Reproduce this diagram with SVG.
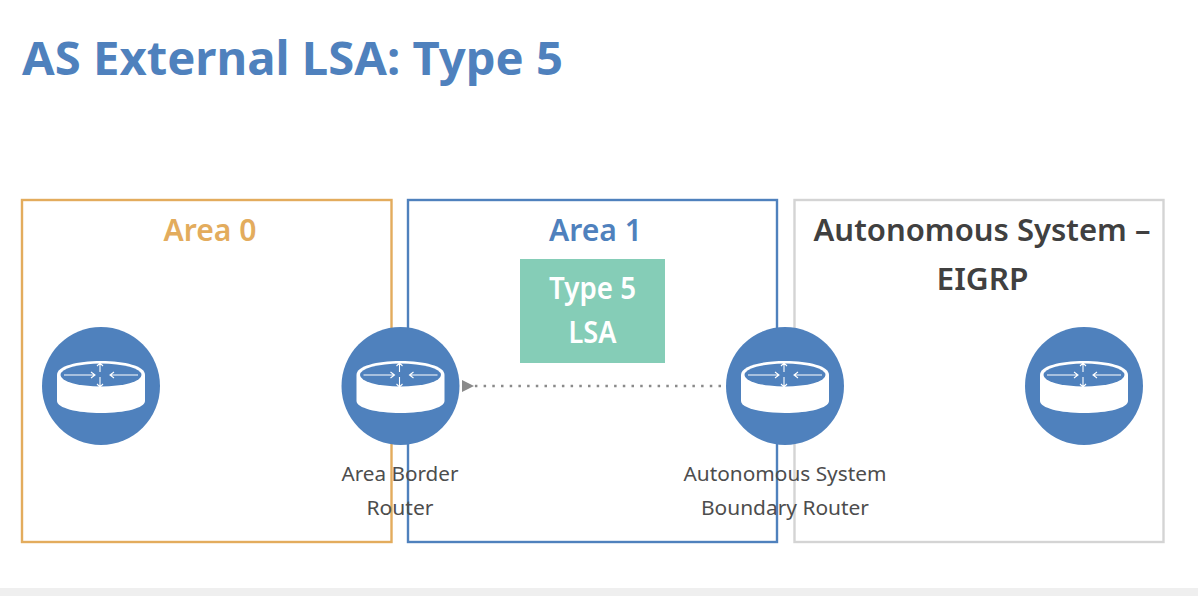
<svg xmlns="http://www.w3.org/2000/svg" xmlns:xlink="http://www.w3.org/1999/xlink" width="1198" height="596" viewBox="0 0 1198 596">
<style>
text{font-family:"Noto Sans","Open Sans","Liberation Sans",sans-serif;text-anchor:middle}
.h{font-size:30px;font-weight:600}
.l{font-size:20px;fill:#4d4d4d}
.box{fill:none;stroke-width:2.4}
.w{fill:#fff}
.a{stroke:#fff;stroke-width:1.1;fill:none}
.c{fill:#4f81bd}
</style>
<defs>
<marker id="arr" markerUnits="userSpaceOnUse" markerWidth="12" markerHeight="12" refX="1" refY="6" orient="auto-start-reverse" viewBox="0 0 12 12"><path d="M12 0V12L0 6Z" fill="#8a8a8a"/></marker>
<g id="router">
<circle r="59" class="c"/>
<path class="w" d="M-44-11C-44-20-24-25 0-25S44-20 44-11V15C44 22 24 27 0 27S-44 22-44 15Z"/>
<ellipse cy="-11" rx="40.500" ry="11.500" class="c"/>
<path class="a" d="M-37-11H-6M-10-14-6-11-10-8M37-11H9M13-14 9-11 13-8M-1-23V-14M-4-20-1-23 2-20M-1 -9V1M-4-2-1 1 2-2"/>
</g>
</defs>
<rect width="1198" height="596" fill="#fff"/>
<rect y="588" width="1198" height="8" fill="#efefef"/>
<text id="title" x="292.500" y="75" font-size="46" font-weight="700" fill="#4f81bd" textLength="541" lengthAdjust="spacingAndGlyphs">AS External LSA: Type 5</text>
<g id="area0"><rect class="box" x="22" y="200" width="369.500" height="342" stroke="#e3ac5d"/><text class="h" x="210" y="241" fill="#e3ac5d" textLength="93" lengthAdjust="spacingAndGlyphs">Area 0</text></g>
<g id="area1"><rect class="box" x="408" y="200" width="369" height="342" stroke="#4f81bd"/><text class="h" x="595.500" y="241" fill="#4f81bd" textLength="93" lengthAdjust="spacingAndGlyphs">Area 1</text></g>
<g id="as"><rect class="box" x="794.500" y="200" width="369" height="342" stroke="#d4d4d4"/>
<text class="h" x="982" y="241" fill="#404040" textLength="337" lengthAdjust="spacingAndGlyphs">Autonomous System –</text>
<text class="h" x="982.500" y="290" fill="#404040" textLength="92" lengthAdjust="spacingAndGlyphs">EIGRP</text></g>
<g id="lsa"><rect x="520" y="259" width="145" height="104" fill="#85cdb7"/>
<text class="h" x="592.500" y="299" fill="#fff" font-size="28" textLength="87" lengthAdjust="spacingAndGlyphs">Type 5</text>
<text class="h" x="592.500" y="343" fill="#fff" textLength="48" lengthAdjust="spacingAndGlyphs">LSA</text></g>
<g id="connectors"><line x1="721" y1="386" x2="473" y2="386" stroke="#8a8a8a" stroke-width="2.500" stroke-dasharray="2.500 6.200" marker-end="url(#arr)"/></g>
<g id="r1"><use href="#router" x="101" y="386"/></g>
<g id="r2"><use href="#router" x="400.500" y="386"/>
<text class="l" x="400" y="481" textLength="117" lengthAdjust="spacingAndGlyphs">Area Border</text><text class="l" x="400" y="515" textLength="67" lengthAdjust="spacingAndGlyphs">Router</text></g>
<g id="r3"><use href="#router" x="785" y="386"/>
<text class="l" x="785" y="481" textLength="203" lengthAdjust="spacingAndGlyphs">Autonomous System</text><text class="l" x="785" y="515" textLength="168" lengthAdjust="spacingAndGlyphs">Boundary Router</text></g>
<g id="r4"><use href="#router" x="1084" y="386"/></g>
</svg>
